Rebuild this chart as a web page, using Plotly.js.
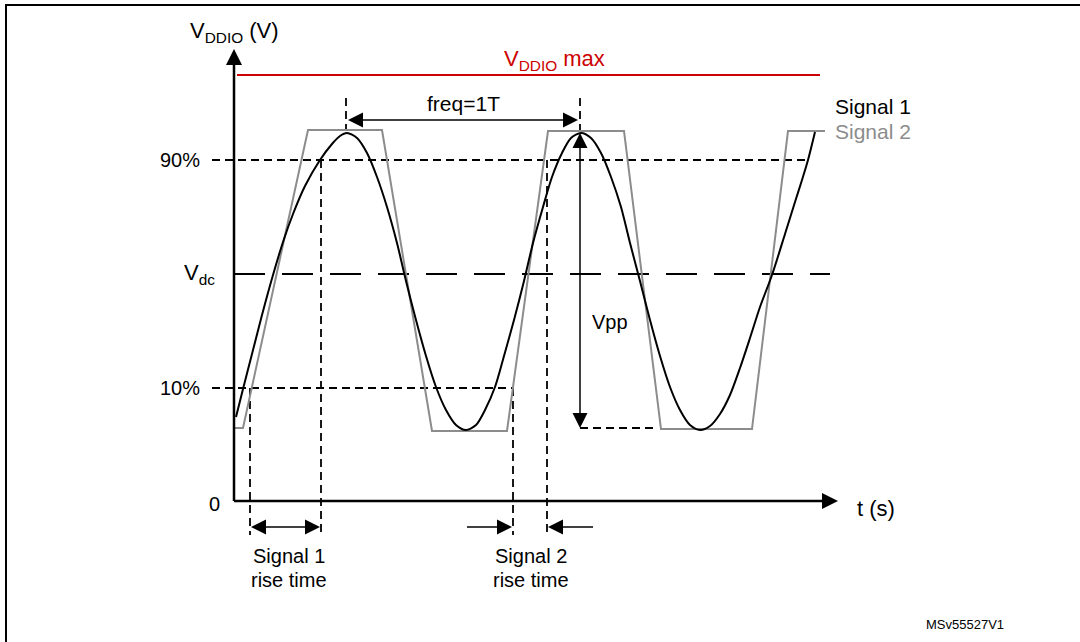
<!DOCTYPE html>
<html><head><meta charset="utf-8">
<script src="https://cdn.plot.ly/plotly-3.0.1.min.js"></script>
<style>html,body{margin:0;padding:0;background:#fff}#chart{width:1080px;height:642px}</style>
</head><body><div id="chart"></div>
<script>
// ---- Signal 1 (sine-like) : time units / voltage units
const sig1T = [2, 9, 18, 28, 39, 49, 59, 71, 86, 98, 106, 113,
  123, 133, 143, 153, 163, 172, 182, 192, 202, 212, 222, 232,
  242, 251, 261, 270, 280, 290, 299, 309, 318, 328, 337, 347,
  357, 367, 377, 387, 396, 406, 416, 426, 436, 446, 456, 466,
  476, 486, 496, 506, 516, 526, 538, 551, 561, 568, 574, 581];
const sig1V = [84, 112, 147, 186, 226, 259, 287, 315, 341, 357, 365, 368,
  363, 348, 324, 294, 258, 220, 181, 145, 114, 91, 76, 71,
  76, 91, 114, 145, 181, 220, 258, 294, 324, 348, 363, 368,
  363, 348, 324, 294, 258, 220, 181, 145, 114, 91, 76, 71,
  75, 87, 106, 133, 163, 194, 226, 267, 299, 321, 341, 369];
// ---- Signal 2 (trapezoid)
const sig2T = [0, 9, 74, 148, 198, 273, 314, 390, 427, 518, 554, 591];
const sig2V = [73, 73, 371, 371, 70, 70, 370, 370, 72, 72, 370, 370];
// ---- Levels
const vMax = 426, v90 = 341, vDc = 227, v10 = 113, vLow = 72, vPeak = 368;
const levelLabels = ['0', '10%', 'V<sub>dc</sub>', '90%'];
const levelValues = [0, v10, vDc, v90];
// ---- Time marks
const tRise1 = [16, 87];      // signal 1 rise time (10% .. 90%)
const tRise2 = [279, 313];    // signal 2 rise time
const tPeaks = [112, 346];    // freq = 1T
const tAxisEnd = 604, vAxisEnd = 452;

const BLACK = '#000000', GRAY = '#8c8c8c', RED = '#cc0000';
const FONT = 'Arial, "Liberation Sans", sans-serif';
const DASH = '8px,5px';

function ln(x, y, opt) {
  const o = {type: 'scatter', mode: 'lines', x: x, y: y, hoverinfo: 'skip', showlegend: false,
    line: {color: BLACK, width: 1.8}};
  return Object.assign(o, opt || {});
}
const yBottom = -34, yArrow = -26, yFreq = 381, yTickTop = 403;

const traces = [
  // reference levels
  ln([3, 586], [vMax, vMax], {line: {color: RED, width: 2}}),
  ln([-22, 576], [v90, v90], {line: {color: BLACK, width: 1.8, dash: DASH}}),
  ln([-22, tRise2[0]], [v10, v10], {line: {color: BLACK, width: 1.8, dash: DASH}}),
  ln([0, 596], [vDc, vDc], {line: {color: BLACK, width: 2, dash: '31px,17px'}}),
  // vertical dashed markers
  ln([tRise1[0], tRise1[0]], [v10, yBottom], {line: {color: BLACK, width: 1.8, dash: DASH}}),
  ln([tRise1[1], tRise1[1]], [v90, yBottom], {line: {color: BLACK, width: 1.8, dash: DASH}}),
  ln([tRise2[0], tRise2[0]], [v10, yBottom], {line: {color: BLACK, width: 1.8, dash: DASH}}),
  ln([tRise2[1], tRise2[1]], [v90, yBottom], {line: {color: BLACK, width: 1.8, dash: DASH}}),
  ln([tPeaks[0], tPeaks[0]], [yTickTop, 371], {line: {color: BLACK, width: 1.8, dash: DASH}}),
  ln([tPeaks[1], tPeaks[1]], [yTickTop, vPeak], {line: {color: BLACK, width: 1.8, dash: DASH}}),
  ln([tPeaks[1], 421], [vLow + 1, vLow + 1], {line: {color: BLACK, width: 1.8, dash: DASH}}),
  // signals
  ln(sig2T, sig2V, {line: {color: GRAY, width: 2}}),
  ln(sig1T, sig1V, {line: {color: BLACK, width: 2, shape: 'spline', smoothing: 0.8}}),
  // axes
  ln([0, 0], [0, vAxisEnd - 14], {line: {color: BLACK, width: 2.5}}),
  ln([0, tAxisEnd - 14], [0, 0], {line: {color: BLACK, width: 2.5}}),
  // arrow shafts
  ln([tPeaks[0] + 4, tPeaks[1] - 4], [yFreq, yFreq], {line: {color: BLACK, width: 1.5}}),
  ln([tPeaks[1], tPeaks[1]], [vPeak - 4, vLow + 5], {line: {color: BLACK, width: 1.5}}),
  ln([tRise1[0] + 4, tRise1[1] - 4], [yArrow, yArrow], {line: {color: BLACK, width: 1.5}}),
  ln([233, tRise2[0] - 4], [yArrow, yArrow], {line: {color: BLACK, width: 1.5}}),
  ln([tRise2[1] + 4, 359], [yArrow, yArrow], {line: {color: BLACK, width: 1.5}}),
  // arrow heads (tip at the point)
  {type: 'scatter', mode: 'markers', hoverinfo: 'skip', showlegend: false,
    x: [0, tAxisEnd], y: [vAxisEnd, 0],
    marker: {symbol: ['arrow-up', 'arrow-right'], size: 16, color: BLACK, line: {width: 0}}},
  {type: 'scatter', mode: 'markers', hoverinfo: 'skip', showlegend: false,
    x: [tPeaks[0] + 2, tPeaks[1] - 2, tPeaks[1], tPeaks[1], tRise1[0] + 1, tRise1[1] - 1, tRise2[0] - 1, tRise2[1] + 1],
    y: [yFreq, yFreq, vPeak, vLow + 1, yArrow, yArrow, yArrow, yArrow],
    marker: {symbol: ['arrow-left', 'arrow-right', 'arrow-up', 'arrow-down', 'arrow-left', 'arrow-right', 'arrow-right', 'arrow-left'],
      size: 15, color: BLACK, line: {width: 0}}}
];

function txt(x, y, text, opt) {
  return Object.assign({x: x, y: y, xref: 'x', yref: 'y', text: text, showarrow: false,
    font: {family: FONT, size: 20, color: BLACK}, xanchor: 'center', yanchor: 'middle'}, opt || {});
}
const annotations = [
  txt(0, 469, 'V<sub>DDIO</sub> (V)', {font: {family: FONT, size: 22, color: BLACK}}),
  txt(320, 441, 'V<sub>DDIO</sub> max', {font: {family: FONT, size: 22, color: RED}}),
  txt(-12, levelValues[0] - 3, levelLabels[0], {xanchor: 'right'}),
  txt(-32, levelValues[1], levelLabels[1], {xanchor: 'right'}),
  txt(-17, levelValues[2], levelLabels[2], {xanchor: 'right', font: {family: FONT, size: 22, color: BLACK}}),
  txt(-32, levelValues[3], levelLabels[3], {xanchor: 'right'}),
  txt(229, 398, 'freq=1T', {font: {family: FONT, size: 21, color: BLACK}}),
  txt(356, 179, 'Vpp', {xanchor: 'left'}),
  txt(621, -7, 't (s)', {xanchor: 'left', font: {family: FONT, size: 22, color: BLACK}}),
  txt(599, 395, 'Signal 1', {xanchor: 'left', font: {family: FONT, size: 21, color: BLACK}}),
  txt(599, 370, 'Signal 2', {xanchor: 'left', font: {family: FONT, size: 21, color: GRAY}}),
  txt(55, -55, 'Signal 1', {}),
  txt(55, -79, 'rise time', {}),
  txt(297, -55, 'Signal 2', {}),
  txt(297, -79, 'rise time', {}),
  txt(731, -123, 'MSv55527V1', {font: {family: FONT, size: 13, color: BLACK}})
];

const layout = {
  width: 1080, height: 642,
  margin: {l: 0, r: 0, t: 0, b: 0, pad: 0},
  paper_bgcolor: '#ffffff', plot_bgcolor: '#ffffff',
  xaxis: {range: [-234, 846], visible: false, fixedrange: true},
  yaxis: {range: [-141, 501], visible: false, fixedrange: true},
  showlegend: false,
  annotations: annotations,
  shapes: [
    {type: 'line', xref: 'paper', yref: 'paper', x0: 6 / 1080, x1: 6 / 1080, y0: 0, y1: 1 - 4 / 642, line: {color: BLACK, width: 2}},
    {type: 'line', xref: 'paper', yref: 'paper', x0: 5 / 1080, x1: 1, y0: 1 - 5 / 642, y1: 1 - 5 / 642, line: {color: BLACK, width: 2}}
  ]
};
Plotly.newPlot('chart', traces, layout, {staticPlot: true, displayModeBar: false});
</script></body></html>
